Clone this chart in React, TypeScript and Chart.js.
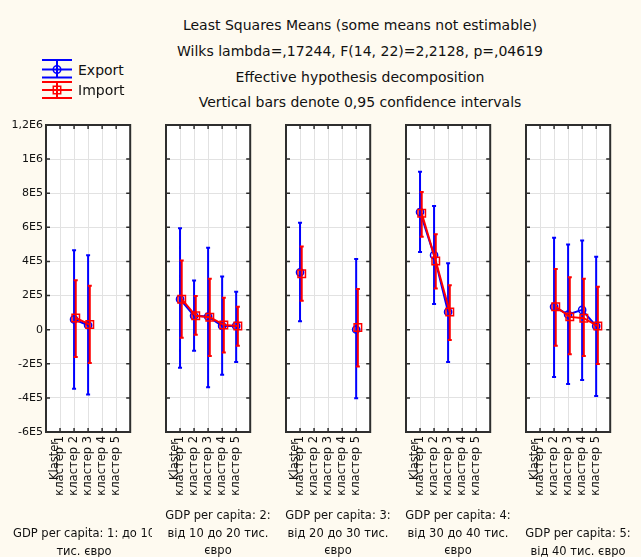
import React, { useEffect, useRef } from 'react';
import { Chart, registerables } from 'chart.js';

Chart.register(...registerables);

// ---------------- DATA ----------------
const CLUSTERS = ['кластер 1', 'кластер 2', 'кластер 3', 'кластер 4', 'кластер 5'];
const X_AXIS_TITLE = 'Klaster';
const SERIES_NAMES = ['Export', 'Import'];
const TITLE_LINES = [
  'Least Squares Means (some means not estimable)',
  'Wilks lambda=,17244, F(14, 22)=2,2128, p=,04619',
  'Effective hypothesis decomposition',
  'Vertical bars denote 0,95 confidence intervals',
];
const PANEL_LABELS = [
  ['GDP per capita: 1: до 10', 'тис. євро'],
  ['GDP per capita: 2:', 'від 10 до 20 тис.', 'євро'],
  ['GDP per capita: 3:', 'від 20 до 30 тис.', 'євро'],
  ['GDP per capita: 4:', 'від 30 до 40 тис.', 'євро'],
  ['GDP per capita: 5:', 'від 40 тис. євро'],
];
const Y_TICK_VALUES = [-600000, -400000, -200000, 0, 200000, 400000, 600000, 800000, 1000000, 1200000];
const Y_TICK_LABELS = ['-6E5', '-4E5', '-2E5', '0', '2E5', '4E5', '6E5', '8E5', '1E6', '1,2E6'];

// one row per GDP panel, one entry per cluster
const EXPORT_MEAN = [
  [null, 60000, 26000, null, null],
  [179000, 81000, 77000, 22000, 22000],
  [336000, null, null, null, 1000],
  [690000, 437000, 104000, null, null],
  [null, 134000, 89000, 116000, 21000],
];
const EXPORT_HIGH = [
  [null, 466000, 437000, null, null],
  [594000, 289000, 480000, 312000, 222000],
  [627000, null, null, null, 414000],
  [926000, 725000, 390000, null, null],
  [null, 539000, 500000, 523000, 427000],
];
const EXPORT_LOW = [
  [null, -347000, -380000, null, null],
  [-224000, -124000, -337000, -265000, -189000],
  [50000, null, null, null, -402000],
  [455000, 151000, -189000, null, null],
  [null, -277000, -318000, -295000, -389000],
];
const IMPORT_MEAN = [
  [null, 69000, 30000, null, null],
  [179000, 81000, 73000, 28000, 22000],
  [328000, null, null, null, 13000],
  [682000, 402000, 104000, null, null],
  [null, 134000, 75000, 67000, 21000],
];
const IMPORT_HIGH = [
  [null, 290000, 257000, null, null],
  [406000, 198000, 298000, 187000, 134000],
  [488000, null, null, null, 238000],
  [807000, 560000, 261000, null, null],
  [null, 355000, 308000, 298000, 251000],
];
const IMPORT_LOW = [
  [null, -160000, -195000, null, null],
  [-48000, -30000, -154000, -134000, -95000],
  [169000, null, null, null, -216000],
  [545000, 242000, -60000, null, null],
  [null, -95000, -144000, -154000, -201000],
];

// ---------------- STYLE / LAYOUT ----------------
const FONT = '"DejaVu Sans", Verdana, sans-serif';
const BG = '#FEFAF0';
const BLUE = '#0000FF';
const RED = '#FF0000';
const GRID = '#E2E2E2';
const FRAME = '#2E2E2E';
const TEXT = '#111111';
const IMPORT_OFFSET = 0.12;
const PANEL_LEFTS = [46, 166, 286, 406, 526];
const PLOT_W = 98;
const AXIS_W = 46;
const PAD_TOP = 10;
const PLOT_H = 307;
const X_AXIS_H = 70;
const CANVAS_TOP = 115;
const CANVAS_W = AXIS_W + PLOT_W + 4;
const CANVAS_H = PAD_TOP + PLOT_H + X_AXIS_H;

const yLabelMap = new Map<number, string>(Y_TICK_VALUES.map((v, i) => [v, Y_TICK_LABELS[i]]));

const decorPlugin = {
  id: 'panelDecor',
  beforeDraw(chart: any) {
    const { ctx, chartArea: a } = chart;
    ctx.save();
    ctx.fillStyle = '#FFFFFF';
    ctx.fillRect(a.left, a.top, a.right - a.left, a.bottom - a.top);
    ctx.restore();
  },
  beforeDatasetsDraw(chart: any) {
    const { ctx, chartArea: a, scales } = chart;
    const xs = scales.x;
    const ys = scales.y;
    ctx.save();
    ctx.strokeStyle = FRAME;
    ctx.lineWidth = 1.5;
    const tl = 4;
    ctx.beginPath();
    for (let k = 1; k <= CLUSTERS.length; k++) {
      const x = xs.getPixelForValue(k);
      ctx.moveTo(x, a.top);
      ctx.lineTo(x, a.top + tl);
      ctx.moveTo(x, a.bottom);
      ctx.lineTo(x, a.bottom - tl);
    }
    Y_TICK_VALUES.forEach((v) => {
      const y = ys.getPixelForValue(v);
      ctx.moveTo(a.left, y);
      ctx.lineTo(a.left + tl, y);
      ctx.moveTo(a.right, y);
      ctx.lineTo(a.right - tl, y);
    });
    ctx.stroke();
    ctx.lineWidth = 2;
    ctx.strokeRect(a.left, a.top, a.right - a.left, a.bottom - a.top);
    ctx.restore();
  },
  afterDatasetDraw(chart: any, args: any) {
    const ds = chart.data.datasets[args.index];
    const lows = ds.errLow as (number | null)[];
    const highs = ds.errHigh as (number | null)[];
    if (!lows) return;
    const { ctx, scales } = chart;
    const xs = scales.x;
    const ys = scales.y;
    ctx.save();
    ctx.strokeStyle = ds.borderColor;
    ctx.lineWidth = 2;
    ctx.beginPath();
    ds.data.forEach((pt: any, k: number) => {
      if (lows[k] == null || highs[k] == null) return;
      const x = xs.getPixelForValue(pt.x);
      const y1 = ys.getPixelForValue(lows[k]);
      const y2 = ys.getPixelForValue(highs[k]);
      ctx.moveTo(x, y1);
      ctx.lineTo(x, y2);
      ctx.moveTo(x - 2, y1);
      ctx.lineTo(x + 2, y1);
      ctx.moveTo(x - 2, y2);
      ctx.lineTo(x + 2, y2);
    });
    ctx.stroke();
    ctx.restore();
  },
};

function makeConfig(p: number): any {
  return {
    type: 'line',
    data: {
      datasets: [
        {
          label: SERIES_NAMES[0],
          data: CLUSTERS.map((_, k) => ({ x: k + 1, y: EXPORT_MEAN[p][k] })),
          errLow: EXPORT_LOW[p],
          errHigh: EXPORT_HIGH[p],
          borderColor: BLUE,
          backgroundColor: BLUE,
          borderWidth: 2,
          pointStyle: 'circle',
          pointRadius: 3.6,
          pointBorderWidth: 1.5,
          pointBorderColor: BLUE,
          pointBackgroundColor: 'rgba(0,0,0,0)',
          spanGaps: false,
          tension: 0,
          order: 1,
        },
        {
          label: SERIES_NAMES[1],
          data: CLUSTERS.map((_, k) => ({ x: k + 1 + IMPORT_OFFSET, y: IMPORT_MEAN[p][k] })),
          errLow: IMPORT_LOW[p],
          errHigh: IMPORT_HIGH[p],
          borderColor: RED,
          backgroundColor: RED,
          borderWidth: 2,
          pointStyle: 'rect',
          pointRadius: 5.3,
          pointBorderWidth: 1.5,
          pointBorderColor: RED,
          pointBackgroundColor: 'rgba(0,0,0,0)',
          spanGaps: false,
          tension: 0,
          order: 0,
        },
      ],
    },
    options: {
      animation: false,
      responsive: false,
      maintainAspectRatio: false,
      devicePixelRatio: 1,
      layout: { padding: { top: PAD_TOP, right: CANVAS_W - AXIS_W - PLOT_W, left: 0, bottom: 0 } },
      plugins: { legend: { display: false }, tooltip: { enabled: false }, title: { display: false } },
      events: [],
      scales: {
        x: {
          type: 'linear',
          min: 0,
          max: CLUSTERS.length + 1,
          afterBuildTicks: (s: any) => {
            s.ticks = [0, 1, 2, 3, 4, 5, 6].map((v) => ({ value: v }));
          },
          afterFit: (s: any) => {
            s.height = X_AXIS_H;
          },
          ticks: {
            autoSkip: false,
            minRotation: 90,
            maxRotation: 90,
            padding: 4,
            color: TEXT,
            font: { family: FONT, size: 11.5 },
            callback: (v: any) => CLUSTERS[Number(v) - 1] ?? '',
          },
          grid: { color: GRID, lineWidth: 1, drawTicks: false },
          border: { display: false },
        },
        y: {
          type: 'linear',
          min: Y_TICK_VALUES[0],
          max: Y_TICK_VALUES[Y_TICK_VALUES.length - 1],
          afterBuildTicks: (s: any) => {
            s.ticks = Y_TICK_VALUES.map((v) => ({ value: v }));
          },
          afterFit: (s: any) => {
            s.width = AXIS_W;
          },
          ticks: {
            display: p === 0,
            padding: 3,
            color: TEXT,
            font: { family: FONT, size: 11 },
            callback: (v: any) => yLabelMap.get(Number(v)) ?? '',
          },
          grid: { color: GRID, lineWidth: 1, drawTicks: false },
          border: { display: false },
        },
      },
    },
    plugins: [decorPlugin],
  };
}

function Panel({ index }: { index: number }) {
  const ref = useRef<HTMLCanvasElement>(null);
  useEffect(() => {
    const chart = new Chart(ref.current as HTMLCanvasElement, makeConfig(index));
    return () => chart.destroy();
  }, [index]);
  return (
    <canvas
      ref={ref}
      width={CANVAS_W}
      height={CANVAS_H}
      style={{ position: 'absolute', left: PANEL_LEFTS[index] - AXIS_W, top: CANVAS_TOP, width: CANVAS_W, height: CANVAS_H }}
    />
  );
}

function LegendSymbols() {
  const ref = useRef<HTMLCanvasElement>(null);
  useEffect(() => {
    const c = ref.current as HTMLCanvasElement;
    const ctx = c.getContext('2d') as CanvasRenderingContext2D;
    ctx.clearRect(0, 0, c.width, c.height);
    const draw = (color: string, top: number, mid: number, bot: number, square: boolean) => {
      ctx.strokeStyle = color;
      ctx.lineWidth = 2;
      ctx.beginPath();
      [top, mid, bot].forEach((y) => {
        ctx.moveTo(2, y);
        ctx.lineTo(32, y);
      });
      ctx.moveTo(17, top);
      ctx.lineTo(17, bot);
      ctx.stroke();
      ctx.lineWidth = 1.5;
      ctx.beginPath();
      if (square) ctx.rect(13.3, mid - 3.7, 7.4, 7.4);
      else ctx.arc(17, mid, 3.8, 0, Math.PI * 2);
      ctx.stroke();
    };
    draw(BLUE, 5, 14.5, 22.5, false);
    draw(RED, 27, 35, 43, true);
  }, []);
  return <canvas ref={ref} width={36} height={50} style={{ position: 'absolute', left: 40, top: 55, width: 36, height: 50 }} />;
}

export default function App() {
  const textBase: React.CSSProperties = { position: 'absolute', fontFamily: FONT, color: TEXT, whiteSpace: 'nowrap' };
  const titleCenters = [24.5, 50.5, 77, 102];
  return (
    <div style={{ position: 'absolute', left: 0, top: 0, width: 641, height: 557, background: BG, overflow: 'hidden' }}>
      {TITLE_LINES.map((t, i) => (
        <div key={i} style={{ ...textBase, left: 110, width: 500, textAlign: 'center', top: titleCenters[i] - 8, fontSize: 14, lineHeight: '16px' }}>
          {t}
        </div>
      ))}
      <LegendSymbols />
      {SERIES_NAMES.map((n, i) => (
        <div key={n} style={{ ...textBase, left: 78, top: [62, 82][i], fontSize: 14, lineHeight: '16px' }}>
          {n}
        </div>
      ))}
      {PANEL_LEFTS.map((_, i) => (
        <Panel key={i} index={i} />
      ))}
      {PANEL_LEFTS.map((l, i) => (
        <div
          key={'k' + i}
          style={{
            ...textBase,
            left: l + 1.5,
            top: 440,
            fontSize: 11.5,
            lineHeight: '12px',
            writingMode: 'vertical-rl',
            transform: 'rotate(180deg)',
          }}
        >
          {X_AXIS_TITLE}
        </div>
      ))}
      {PANEL_LABELS.map((lines, i) => {
        const center = PANEL_LEFTS[i] + PLOT_W / 2 + 3;
        const top = lines.length === 3 ? 507 : 525;
        if (i === 0) {
          return (
            <div key={'l' + i} style={{ ...textBase, left: 13, top, width: 142, fontSize: 11.5, lineHeight: '17.5px' }}>
              <div style={{ width: 139, overflow: 'hidden', textAlign: 'left' }}>{lines[0]}</div>
              <div style={{ textAlign: 'center' }}>{lines[1]}</div>
            </div>
          );
        }
        return (
          <div key={'l' + i} style={{ ...textBase, left: center - 70, width: 140, top, textAlign: 'center', fontSize: 11.5, lineHeight: '17.5px' }}>
            {lines.map((ln, j) => (
              <div key={j}>{ln}</div>
            ))}
          </div>
        );
      })}
    </div>
  );
}
